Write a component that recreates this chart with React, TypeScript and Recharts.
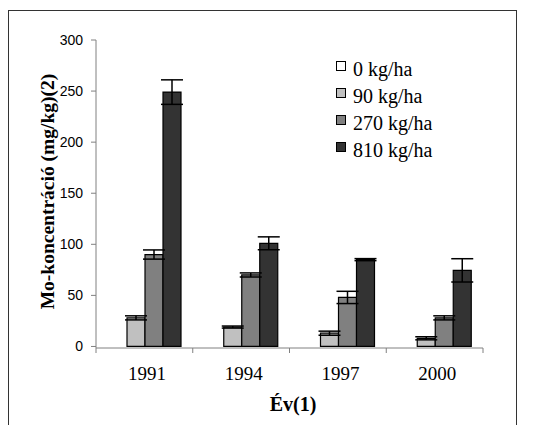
import React from 'react';
import { Bar, BarChart, ErrorBar, XAxis, YAxis } from 'recharts';

const YEARS = ['1991', '1994', '1997', '2000'];

// Mo concentration (mg/kg) per dose, with +/- error
const KG0 = [0, 0, 0, 0];
const KG0_ERR = [1.5, 1.5, 1.5, 1.5];
const KG90 = [28, 19, 13, 8];
const KG90_ERR = [2, 1, 2, 1.5];
const KG270 = [90, 70, 48, 28];
const KG270_ERR = [4.5, 2, 6, 2];
const KG810 = [249, 101, 85, 74.5];
const KG810_ERR = [12, 6.3, 1, 11.4];

const Y_TICKS = [0, 50, 100, 150, 200, 250, 300];

const SERIES = [
  { key: 'kg0', name: '0 kg/ha', color: '#ffffff' },
  { key: 'kg90', name: '90 kg/ha', color: '#c0c0c0' },
  { key: 'kg270', name: '270 kg/ha', color: '#808080' },
  { key: 'kg810', name: '810 kg/ha', color: '#333333' },
];

const data = YEARS.map((year, i) => ({
  year,
  kg0: KG0[i],
  kg0Err: KG0_ERR[i],
  kg90: KG90[i],
  kg90Err: KG90_ERR[i],
  kg270: KG270[i],
  kg270Err: KG270_ERR[i],
  kg810: KG810[i],
  kg810Err: KG810_ERR[i],
}));

const W = 538;
const H = 417;
const MARGIN = { top: 32, right: 63, bottom: 47, left: 28 };
const Y_AXIS_W = 60;
const PLOT_W = W - MARGIN.left - MARGIN.right - Y_AXIS_W;
const BAND = PLOT_W / YEARS.length;

const SERIF = '"Liberation Serif", "Times New Roman", Times, serif';
const SANS = '"Liberation Sans", Arial, Helvetica, sans-serif';
const AXIS_GREY = '#808080';

const XTick = (props: any) => {
  const { x, y, payload, index } = props;
  const half = BAND / 2;
  return (
    <g>
      <line x1={x - half} x2={x - half} y1={y} y2={y + 5} stroke={AXIS_GREY} />
      {index === YEARS.length - 1 && (
        <line x1={x + half} x2={x + half} y1={y} y2={y + 5} stroke={AXIS_GREY} />
      )}
      <text x={x + 2.5} y={y + 32} textAnchor="middle" fontFamily={SERIF} fontSize={19} fill="#000">
        {payload.value}
      </text>
    </g>
  );
};

const YLabel = (props: any) => {
  const vb = props.viewBox || { x: MARGIN.left, y: MARGIN.top, width: Y_AXIS_W, height: 308 };
  const cx = vb.x + 18;
  const cy = vb.y + vb.height / 2 - 2.5;
  return (
    <text
      x={cx}
      y={cy}
      transform={`rotate(-90, ${cx}, ${cy})`}
      textAnchor="middle"
      fontFamily={SERIF}
      fontWeight="bold"
      fontSize={19.5}
      fill="#000"
    >
      Mo-koncentráció (mg/kg)(2)
    </text>
  );
};

const XLabel = (props: any) => {
  const vb = props.viewBox || { x: MARGIN.left + Y_AXIS_W, y: 340, width: PLOT_W, height: 30 };
  return (
    <text
      x={vb.x + vb.width / 2 + 3.5}
      y={vb.y + 63}
      textAnchor="middle"
      fontFamily={SERIF}
      fontWeight="bold"
      fontSize={20}
      fill="#000"
    >
      Év(1)
    </text>
  );
};

export default function App() {
  return (
    <div style={{ position: 'absolute', left: 8, top: 8, width: W, height: H, overflow: 'hidden', background: '#fff' }}>
      <div
        style={{
          position: 'absolute',
          left: 0,
          top: 2,
          width: 509,
          height: 500,
          border: '1.5px solid #333',
          boxSizing: 'border-box',
          pointerEvents: 'none',
        }}
      />
      <BarChart width={W} height={H} data={data} margin={MARGIN} barGap={0} barCategoryGap={13}>
        <XAxis
          dataKey="year"
          height={30}
          axisLine={{ stroke: AXIS_GREY }}
          tickLine={false}
          tickSize={0}
          tickMargin={0}
          tick={<XTick />}
          interval={0}
          label={<XLabel />}
        />
        <YAxis
          width={Y_AXIS_W}
          domain={[0, 300]}
          ticks={Y_TICKS}
          interval={0}
          axisLine={{ stroke: AXIS_GREY }}
          tickLine={{ stroke: AXIS_GREY }}
          tickSize={5}
          tickMargin={8}
          tick={{ fontFamily: SANS, fontSize: 14, fill: '#000' }}
          label={<YLabel />}
        />
        {SERIES.map((s) => (
          <Bar
            key={s.key}
            dataKey={s.key}
            name={s.name}
            fill={s.color}
            stroke="#000"
            strokeWidth={1.2}
            isAnimationActive={false}
          >
            <ErrorBar dataKey={`${s.key}Err`} width={11} stroke="#000" strokeWidth={1.5} direction="y" />
          </Bar>
        ))}
      </BarChart>
      <div style={{ position: 'absolute', left: 328, top: 48, fontFamily: SERIF, fontSize: 20, color: '#000' }}>
        {SERIES.map((s) => (
          <div key={s.key} style={{ display: 'flex', alignItems: 'center', height: 27, whiteSpace: 'nowrap' }}>
            <span
              style={{
                display: 'inline-block',
                width: 8,
                height: 8,
                background: s.color,
                border: '1px solid #000',
                position: 'relative',
                top: -4,
                marginRight: 7,
              }}
            />
            <span>{s.name}</span>
          </div>
        ))}
      </div>
    </div>
  );
}
